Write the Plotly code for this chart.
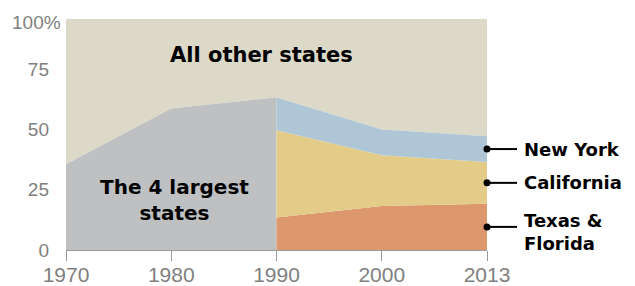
import numpy as np
import plotly.graph_objects as go

years = ["1970", "1980", "1990", "2000", "2013"]
early_years = ["1970", "1980", "1990"]
late_years = ["1990", "2000", "2013"]

largest4 = [35.6, 58.8, 63.4]          # 4 largest states combined, 1970-1990
texas_florida = [13.5, 18.3, 19.2]     # 1990-2013
california = [36.3, 21.1, 17.4]
new_york = [13.6, 10.7, 10.7]

y_ticks = [0, 25, 50, 75]
y_tick_labels = ["0", "25", "50", "75"]

c_other = "#dcd9c9"
c_gray = "#bfc0c2"
c_ny = "#aec6d5"
c_ca = "#e3cc87"
c_tf = "#dc976c"

tf = np.array(texas_florida)
ca_top = tf + np.array(california)
ny_top = ca_top + np.array(new_york)
top_all = list(largest4[:2]) + list(ny_top)

fig = go.Figure()
# All other states (remainder up to 100%)
fig.add_trace(go.Scatter(x=years, y=top_all, mode="lines", line=dict(width=0),
                         hoverinfo="skip", showlegend=False))
fig.add_trace(go.Scatter(x=years, y=[100] * len(years), mode="lines", line=dict(width=0),
                         fill="tonexty", fillcolor=c_other, showlegend=False))
# 4 largest states
fig.add_trace(go.Scatter(x=early_years, y=largest4, mode="lines", line=dict(width=0),
                         fill="tozeroy", fillcolor=c_gray, showlegend=False))
# after 1990 split
fig.add_trace(go.Scatter(x=late_years, y=texas_florida, mode="lines", line=dict(width=0),
                         stackgroup="s", fillcolor=c_tf, showlegend=False))
fig.add_trace(go.Scatter(x=late_years, y=california, mode="lines", line=dict(width=0),
                         stackgroup="s", fillcolor=c_ca, showlegend=False))
fig.add_trace(go.Scatter(x=late_years, y=new_york, mode="lines", line=dict(width=0),
                         stackgroup="s", fillcolor=c_ny, showlegend=False))

mids = [(ca_top[-1] + ny_top[-1]) / 2, (tf[-1] + ca_top[-1]) / 2, tf[-1] / 2]
names = ["New York", "California", "Texas &<br>Florida"]
yshifts = [0, 0, -5]

plot_w = 635 - 66 - 148

shapes = [dict(type="line", xref="x", yref="paper", x0="1990", x1="1990",
               y0=0, y1=1 + 19 / 231, line=dict(color="#6e6e6e", width=1.5))]
annotations = []
for m, n, ys in zip(mids, names, yshifts):
    shapes.append(dict(type="line", xref="paper", yref="y",
                       x0=1, x1=1 + 30 / plot_w, y0=m, y1=m,
                       line=dict(color="black", width=2)))
    annotations.append(dict(x=1, y=m, xref="paper", yref="y", text="<b>" + n + "</b>",
                            showarrow=False, xanchor="left", yanchor="middle",
                            xshift=35, yshift=ys, align="left",
                            font=dict(family="DejaVu Sans", size=18, color="black")))

fig.add_trace(go.Scatter(x=[years[-1]] * 3, y=mids, mode="markers",
                         marker=dict(size=7, color="black"), cliponaxis=False,
                         hoverinfo="skip", showlegend=False))

annotations.append(dict(x=1.86, y=81, xref="x", yref="y", text="<b>All other states</b>",
                        showarrow=False, font=dict(family="DejaVu Sans", size=21, color="black")))
annotations.append(dict(x=1.03, y=20.8, xref="x", yref="y",
                        text="<b>The 4 largest<br>states</b>", showarrow=False,
                        font=dict(family="DejaVu Sans", size=20, color="black")))
annotations.append(dict(x=0, y=94.7, xref="paper", yref="y", text="100%", showarrow=False,
                        xanchor="left", yanchor="middle", xshift=-56,
                        font=dict(family="Liberation Sans", size=19, color="#808080")))

fig.update_layout(
    width=635, height=286,
    margin=dict(l=66, r=148, t=19, b=36),
    paper_bgcolor="white", plot_bgcolor="white",
    shapes=shapes, annotations=annotations,
    xaxis=dict(type="category", categoryorder="array", categoryarray=years,
               range=[0, 4], showgrid=False, zeroline=False, automargin=False,
               showline=True, linecolor="#999999", linewidth=1,
               ticks="outside", ticklen=10, tickcolor="#999999",
               ticklabelstandoff=-4,
               tickfont=dict(family="Liberation Sans", size=21, color="#808080")),
    yaxis=dict(range=[0, 96], showgrid=False, zeroline=False, showline=False,
               automargin=False,
               tickvals=y_ticks, ticktext=y_tick_labels, ticks="",
               ticklabelstandoff=16,
               tickfont=dict(family="Liberation Sans", size=19, color="#808080")),
)

fig.write_html("out.html", config={"displayModeBar": False},
               post_script="document.body.style.margin='0';")
